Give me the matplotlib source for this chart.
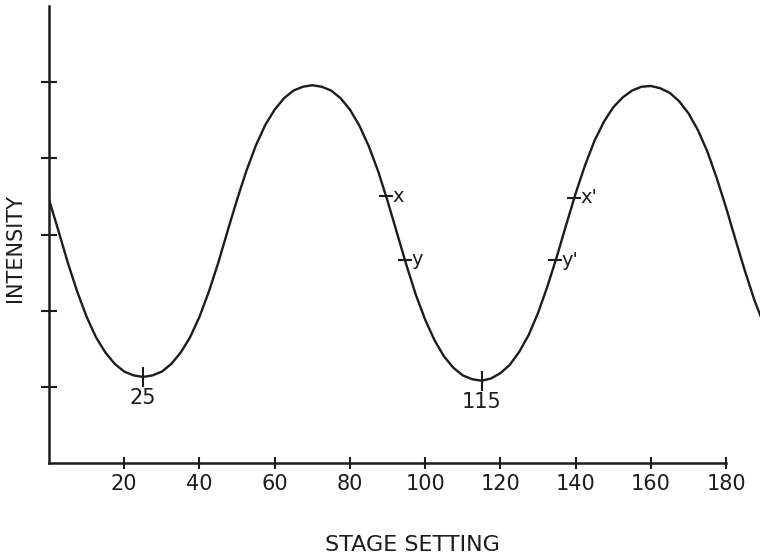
import numpy as np
import matplotlib
matplotlib.use("Agg")
import matplotlib.pyplot as plt

# stage setting (degrees) and intensity
stage = np.arange(0, 190.1, 2.5)
intensity = [3.46, 3.05, 2.63, 2.25, 1.92, 1.65, 1.45, 1.30, 1.20, 1.15,
             1.13, 1.15, 1.20, 1.30, 1.45, 1.65, 1.92, 2.25, 2.63, 3.05,
             3.46, 3.84, 4.17, 4.44, 4.64, 4.79, 4.89, 4.94, 4.96, 4.94,
             4.89, 4.79, 4.64, 4.43, 4.16, 3.83, 3.44, 3.02, 2.60, 2.21,
             1.88, 1.61, 1.40, 1.25, 1.15, 1.10, 1.08, 1.11, 1.18, 1.29,
             1.46, 1.68, 1.97, 2.32, 2.71, 3.13, 3.54, 3.91, 4.23, 4.48,
             4.67, 4.80, 4.89, 4.94, 4.95, 4.92, 4.86, 4.75, 4.59, 4.37,
             4.09, 3.74, 3.35, 2.93, 2.52, 2.14, 1.82]

x_ticks = [20, 40, 60, 80, 100, 120, 140, 160, 180]
y_ticks = [1, 2, 3, 4, 5]

# marked points on the curve
point_stage = [89.5, 94.5, 134.5, 139.5]
point_level = [3.50, 2.67, 2.66, 3.48]
point_names = ["x", "y", "y'", "x'"]

# minima
min_stage = [25, 115]
min_level = [1.13, 1.08]
min_names = ["25", "115"]

ink = "#1c1c1c"

fig = plt.figure(figsize=(7.6, 5.59), dpi=100)
ax = fig.add_axes([49 / 760, 96 / 559, 711 / 760, 457 / 559])

ax.plot(stage, intensity, color=ink, lw=1.7, solid_joinstyle="round")

ax.plot(point_stage, point_level, ls="none", marker="_", markersize=10,
        mew=1.5, color=ink)
for s, v, name in zip(point_stage, point_level, point_names):
    ax.annotate(name, (s, v), xytext=(5, 0), textcoords="offset points",
                ha="left", va="center", fontsize=14, color=ink)

ax.plot(min_stage, min_level, ls="none", marker="|", markersize=15, mew=1.5,
        color=ink)
for s, v, name in zip(min_stage, min_level, min_names):
    ax.annotate(name, (s, v), xytext=(0, -8), textcoords="offset points",
                ha="center", va="top", fontsize=15, color=ink)

ax.set_xlim(0, 189)
ax.set_ylim(0, 6)
ax.set_xticks(x_ticks)
ax.set_xticklabels([str(t) for t in x_ticks])
ax.set_yticks(y_ticks)
ax.set_yticklabels([])

for side in ["top", "right"]:
    ax.spines[side].set_visible(False)
ax.spines["left"].set_bounds(0, 6)
ax.spines["bottom"].set_bounds(0, 180)
for side in ["left", "bottom"]:
    ax.spines[side].set_linewidth(1.8)
    ax.spines[side].set_color(ink)

ax.tick_params(axis="x", direction="inout", length=9, width=1.5, pad=3.5,
               labelsize=15, colors=ink)
ax.tick_params(axis="y", direction="inout", length=11.5, width=1.5, colors=ink)
ax.patch.set_visible(False)

fig.text(15 / 760, 1 - 248 / 559, "INTENSITY", rotation=90, ha="center",
         va="center", fontsize=15, color=ink)
fig.text(412 / 760, 1 - 545 / 559, "STAGE SETTING", ha="center", va="center",
         fontsize=16, color=ink)

fig.savefig("out.png", dpi=100)
